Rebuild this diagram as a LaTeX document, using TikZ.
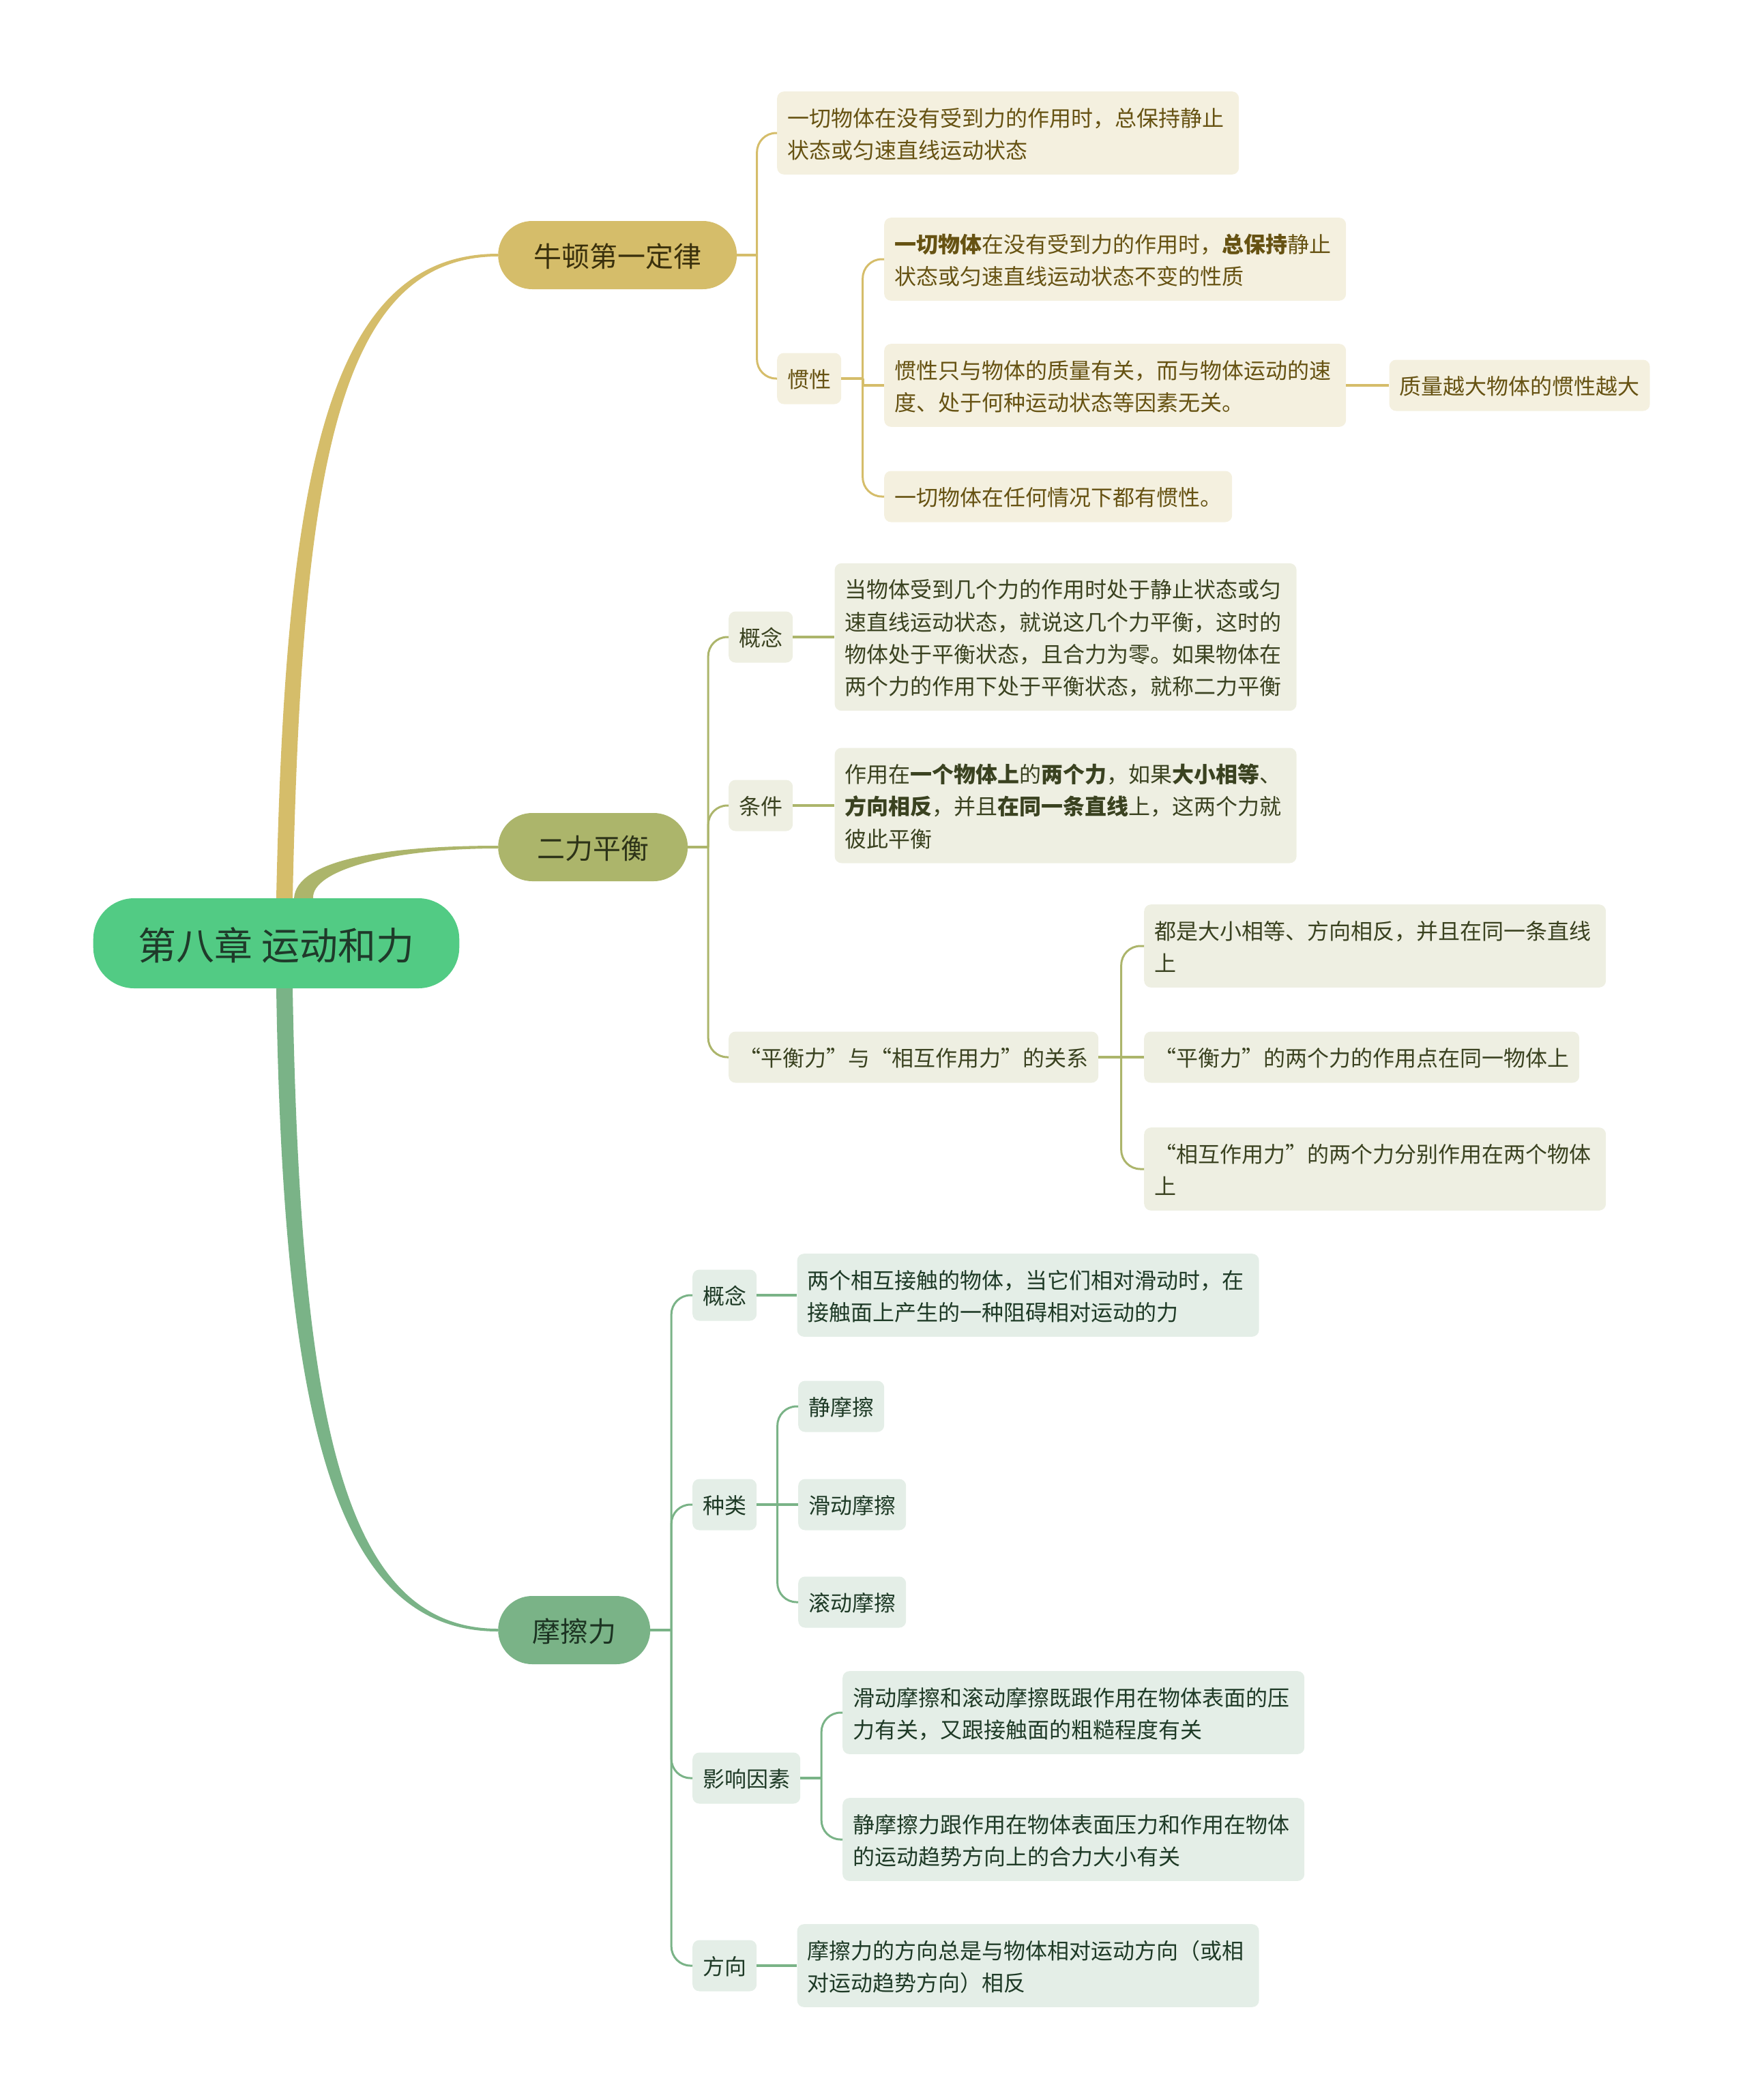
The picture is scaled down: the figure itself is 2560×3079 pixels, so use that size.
\documentclass[tikz,border=0pt]{standalone}
\usepackage{fontspec}
\setmainfont{Noto Sans CJK SC}
\XeTeXuseglyphmetrics=0
\usetikzlibrary{positioning,calc}

\definecolor{rootfill}{HTML}{52CB84}
\definecolor{roottext}{HTML}{1F3A2A}
\definecolor{newtfill}{HTML}{D5BD6A}
\definecolor{newtdark}{HTML}{3A300C}
\definecolor{newtleaf}{HTML}{F4F0DF}
\definecolor{newttext}{HTML}{665212}
\definecolor{balfill}{HTML}{ACB56B}
\definecolor{baldark}{HTML}{2D3318}
\definecolor{balleaf}{HTML}{EEEFE2}
\definecolor{baltext}{HTML}{3A4220}
\definecolor{fricfill}{HTML}{7AB387}
\definecolor{fricdark}{HTML}{1C3322}
\definecolor{fricleaf}{HTML}{E4EEE7}
\definecolor{frictext}{HTML}{1E3A26}

\tikzset{
  rootbox/.style={rectangle, rounded corners=60pt, fill=rootfill, text=roottext, minimum height=132pt, inner xsep=66pt, font=\fontsize{56pt}{60pt}\selectfont},
  topic/.style={rectangle, rounded corners=50pt, minimum height=100pt, inner xsep=52pt, font=\fontsize{41pt}{48pt}\selectfont, anchor=west},
  tag/.style={rectangle, rounded corners=10pt, inner xsep=15pt, inner ysep=14pt, minimum height=75pt, align=left, font=\fontsize{32pt}{40pt}\selectfont, anchor=west},
  leaf/.style={tag, text width=647pt},
  newt/.style={fill=newtleaf, text=newttext},
  bal/.style={fill=balleaf, text=baltext},
  fric/.style={fill=fricleaf, text=frictext},
  stub/.style={line width=4pt},
  twig/.style={line width=3pt, rounded corners=28pt},
}

\begin{document}
\begin{tikzpicture}[x=1pt,y=-1pt]
\useasboundingbox (0,0) rectangle (2560,3079);

% centre and main topics
\node [rootbox] (root) at (405,1383) {第八章 运动和力};
\node [topic, fill=newtfill, text=newtdark] (newton) at (730,374) {牛顿第一定律};
\node [topic, fill=balfill, text=baldark, inner xsep=57pt] (balance) at (730,1242) {二力平衡};
\node [topic, fill=fricfill, text=fricdark, inner xsep=50pt] (friction) at (730,2390) {摩擦力};

% 牛顿第一定律
\node [leaf, newt] (nlaw) at (1139,195) {一切物体在没有受到力的作用时，总保持静止\\状态或匀速直线运动状态};
\node [tag, newt] (inertia) at (1139,555) {惯性};
\node [leaf, newt] (inert1) at (1296,380) {\textbf{一切物体}在没有受到力的作用时，\textbf{总保持}静止\\状态或匀速直线运动状态不变的性质};
\node [leaf, newt] (inert2) at (1296,565) {惯性只与物体的质量有关，而与物体运动的速\\度、处于何种运动状态等因素无关。};
\node [tag, newt] (inert3) at (1296,728) {一切物体在任何情况下都有惯性。};
\node [tag, newt, right=63pt of inert2] (mass) {质量越大物体的惯性越大};

% 二力平衡
\node [tag, bal] (bconcept) at (1068,934) {概念};
\node [leaf, bal, right=61pt of bconcept] (bconcepttxt) {当物体受到几个力的作用时处于静止状态或匀\\速直线运动状态，就说这几个力平衡，这时的\\物体处于平衡状态，且合力为零。如果物体在\\两个力的作用下处于平衡状态，就称二力平衡};
\node [tag, bal] (bcond) at (1068,1181) {条件};
\node [leaf, bal, right=61pt of bcond] (bcondtxt) {作用在\textbf{一个物体上}的\textbf{两个力}，如果\textbf{大小相等}、\\\textbf{方向相反}，并且\textbf{在同一条直线}上，这两个力就\\彼此平衡};
\node [tag, bal] (brel) at (1068,1550) {“平衡力”与“相互作用力”的关系};
\node [leaf, bal] (brel1) at (1677,1387) {都是大小相等、方向相反，并且在同一条直线\\上};
\node [tag, bal] (brel2) at (1677,1550) {“平衡力”的两个力的作用点在同一物体上};
\node [leaf, bal] (brel3) at (1677,1714) {“相互作用力”的两个力分别作用在两个物体\\上};

% 摩擦力
\node [tag, fric] (fconcept) at (1015,1899) {概念};
\node [leaf, fric, right=59pt of fconcept] (fconcepttxt) {两个相互接触的物体，当它们相对滑动时，在\\接触面上产生的一种阻碍相对运动的力};
\node [tag, fric] (fkind) at (1015,2206) {种类};
\node [tag, fric] (fstatic) at (1170,2062) {静摩擦};
\node [tag, fric] (fslide) at (1170,2206) {滑动摩擦};
\node [tag, fric] (froll) at (1170,2349) {滚动摩擦};
\node [tag, fric] (ffactor) at (1015,2607) {影响因素};
\node [leaf, fric] (ffactor1) at (1235,2511) {滑动摩擦和滚动摩擦既跟作用在物体表面的压\\力有关，又跟接触面的粗糙程度有关};
\node [leaf, fric] (ffactor2) at (1235,2697) {静摩擦力跟作用在物体表面压力和作用在物体\\的运动趋势方向上的合力大小有关};
\node [tag, fric] (fdir) at (1015,2882) {方向};
\node [leaf, fric, right=59pt of fdir] (fdirtxt) {摩擦力的方向总是与物体相对运动方向（或相\\对运动趋势方向）相反};

% main branches
\fill [newtfill] (root.north)
  .. controls ($(root.north)+(13,-617)$) and ($(newton.west)+(-252,-2)$) .. ($(newton.west)+(0,-2)$)
  -- ($(newton.west)+(0,2)$)
  .. controls ($(newton.west)+(-240,2)$) and ($(root.north)+(37,-612)$) .. ($(root.north)+(24,0)$) -- cycle;
\fill [balfill] ($(root.north)+(26,0)$)
  .. controls ($(root.north)+(30,-55)$) and ($(balance.west)+(-170,-2)$) .. ($(balance.west)+(0,-2)$)
  -- ($(balance.west)+(0,2)$)
  .. controls ($(balance.west)+(-160,2)$) and ($(root.north)+(52,-40)$) .. ($(root.north)+(54,0)$) -- cycle;
\fill [fricfill] (root.south)
  .. controls ($(root.south)+(10,650)$) and ($(friction.west)+(-235,2)$) .. ($(friction.west)+(0,2)$)
  -- ($(friction.west)+(0,-2)$)
  .. controls ($(friction.west)+(-225,-2)$) and ($(root.south)+(35,640)$) .. ($(root.south)+(24,0)$) -- cycle;

% forks
\coordinate (nfork) at ($(newton.east)!.5!(newton.east -| nlaw.west)$);
\coordinate (ifork) at ($(inertia.east)!.5!(inertia.east -| inert1.west)$);
\coordinate (bfork) at ($(balance.east)!.5!(balance.east -| bconcept.west)$);
\coordinate (rfork) at ($(brel.east)!.5!(brel.east -| brel1.west)$);
\coordinate (ffork) at ($(friction.east)!.5!(friction.east -| fconcept.west)$);
\coordinate (kfork) at ($(fkind.east)!.5!(fkind.east -| fstatic.west)$);
\coordinate (xfork) at ($(ffactor.east)!.5!(ffactor.east -| ffactor1.west)$);

% 牛顿第一定律 links
\draw [newtfill, stub] (newton.east) -- (nfork);
\foreach \c in {nlaw, inertia}
  \draw [newtfill, twig] (nfork) |- (\c.west);
\draw [newtfill, stub] (inertia.east) -- (ifork);
\foreach \c in {inert1, inert3}
  \draw [newtfill, twig] (ifork) |- (\c.west);
\draw [newtfill, stub] (ifork) |- (inert2.west);
\draw [newtfill, stub] (inert2.east) -- (mass.west);

% 二力平衡 links
\draw [balfill, stub] (balance.east) -- (bfork);
\foreach \c in {bconcept, bcond, brel}
  \draw [balfill, twig] (bfork) |- (\c.west);
\draw [balfill, stub] (bconcept.east) -- (bconcepttxt.west);
\draw [balfill, stub] (bcond.east) -- (bcondtxt.west);
\draw [balfill, stub] (brel.east) -- (rfork);
\foreach \c in {brel1, brel3}
  \draw [balfill, twig] (rfork) |- (\c.west);
\draw [balfill, stub] (rfork) -- (brel2.west);

% 摩擦力 links
\draw [fricfill, stub] (friction.east) -- (ffork);
\foreach \c in {fconcept, fkind, ffactor, fdir}
  \draw [fricfill, twig] (ffork) |- (\c.west);
\draw [fricfill, stub] (fconcept.east) -- (fconcepttxt.west);
\draw [fricfill, stub] (fdir.east) -- (fdirtxt.west);
\draw [fricfill, stub] (fkind.east) -- (kfork);
\foreach \c in {fstatic, froll}
  \draw [fricfill, twig] (kfork) |- (\c.west);
\draw [fricfill, stub] (kfork) -- (fslide.west);
\draw [fricfill, stub] (ffactor.east) -- (xfork);
\foreach \c in {ffactor1, ffactor2}
  \draw [fricfill, twig] (xfork) |- (\c.west);

\end{tikzpicture}
\end{document}
